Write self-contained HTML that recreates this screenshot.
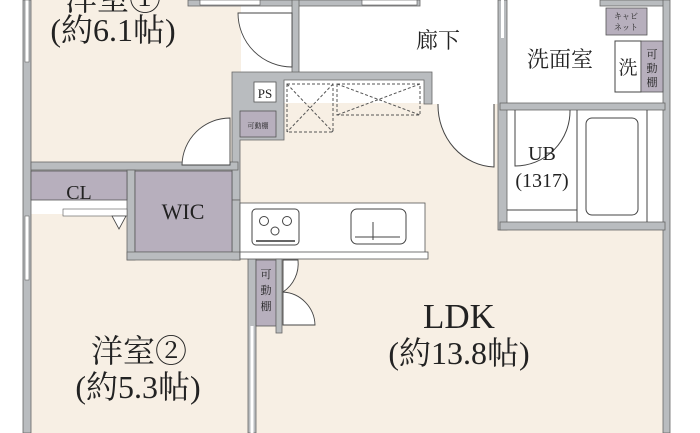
<!DOCTYPE html>
<html><head><meta charset="utf-8"><style>
html,body{margin:0;padding:0;background:#fff;width:700px;height:433px;overflow:hidden}
svg{display:block}
text{font-family:"Liberation Serif","Noto Serif CJK SC",serif;fill:#222}
</style></head><body>
<svg width="700" height="433" viewBox="0 0 700 433" xmlns="http://www.w3.org/2000/svg">
<defs><style>.w{fill:#b9bcbf;stroke:#666;stroke-width:.8}.p{fill:#b7afbd;stroke:#555;stroke-width:.8}.l{fill:none;stroke:#444;stroke-width:1}.d{fill:none;stroke:#555;stroke-width:1;stroke-dasharray:3,2}</style></defs>
<rect x="31" y="0" width="210" height="165" fill="#f7efe4"/>
<rect x="31" y="214" width="220" height="219" fill="#f7efe4"/>
<rect x="238" y="103" width="264" height="330" fill="#f7efe4"/>
<rect x="500" y="228" width="165" height="205" fill="#f7efe4"/>
<rect x="298" y="6" width="202" height="68" fill="#fff"/>
<rect x="430" y="74" width="70" height="30" fill="#fff"/>
<rect x="507" y="6" width="156" height="220" fill="#fff"/>
<rect class="w" x="23" y="0" width="8" height="433"/>
<rect x="25" y="0" width="4" height="62" fill="#fff" stroke="#666" stroke-width=".6"/>
<rect x="25" y="216" width="4" height="64" fill="#fff" stroke="#666" stroke-width=".6"/>
<rect class="w" x="188" y="0" width="232" height="6"/>
<rect x="200" y="0" width="60" height="5" fill="#fff" stroke="#555" stroke-width=".6"/>
<rect x="362" y="0" width="55" height="5" fill="#fff" stroke="#555" stroke-width=".6"/>
<rect class="w" x="600" y="0" width="65" height="6"/>
<rect class="w" x="292" y="0" width="7" height="73"/>
<path class="w" d="M232 72 H432 V104 H424 V80 H284 V140 H240 V200 H232 Z"/>
<rect class="w" x="31" y="162" width="207" height="8"/>
<rect class="w" x="498" y="0" width="9" height="230"/>
<rect x="501" y="0" width="3" height="38" fill="#fff"/>
<rect class="w" x="663" y="0" width="7" height="433"/>
<rect class="w" x="500" y="103" width="165" height="7"/>
<rect class="w" x="500" y="222" width="165" height="8"/>
<rect class="w" x="248" y="258" width="8" height="175"/>
<rect x="250.5" y="326" width="3" height="107" fill="#fff"/>
<rect class="w" x="127" y="170" width="8" height="90"/>
<rect class="w" x="232" y="200" width="8" height="60"/>
<path d="M292 13 H238 A54 54 0 0 0 292 67 Z" fill="#fff" stroke="#444" stroke-width=".9"/>
<path d="M230 118 V165 H182 A48 48 0 0 1 230 118 Z" fill="#fff" stroke="#444" stroke-width=".9"/>
<path d="M438 104 H494 V167 A58 62 0 0 1 438 104 Z" fill="#fff"/>
<path d="M494 104 V167 A58 62 0 0 1 438 104" class="l"/>
<rect x="254" y="82" width="22" height="20" fill="#fff" stroke="#555" stroke-width=".8"/>
<text x="265" y="98" font-size="13" text-anchor="middle">PS</text>
<rect class="p" x="240" y="111" width="36" height="26"/>
<text x="258" y="128" font-size="7" text-anchor="middle">可動棚</text>
<rect class="d" x="287" y="84" width="46" height="48"/><path class="d" d="M287 84 L333 132 M333 84 L287 132"/>
<rect class="d" x="337" y="84" width="83" height="31"/><path class="d" d="M337 84 L420 115 M420 84 L337 115"/>
<rect class="p" x="31" y="171" width="96" height="29"/>
<text x="79" y="199" font-size="20" text-anchor="middle">CL</text>
<rect x="63" y="209" width="64" height="7" fill="#fff" stroke="#555" stroke-width=".6"/>
<path d="M112 216 L126 216 L119 229 Z" fill="#fff" stroke="#444" stroke-width=".8"/>
<rect class="p" x="135" y="171" width="97" height="81"/>
<text x="183" y="219" font-size="22" text-anchor="middle">WIC</text>
<path class="w" d="M127 252 H240 V260 H127 Z"/>
<rect x="240" y="203" width="185" height="53" fill="#fff" stroke="#555" stroke-width=".8"/>
<rect x="240" y="252" width="188" height="7" fill="#fff" stroke="#555" stroke-width=".8"/>
<rect x="252" y="209" width="47" height="36" rx="4" fill="#fff" stroke="#444"/>
<circle cx="264" cy="221" r="4.5" class="l"/><circle cx="287" cy="221" r="4.5" class="l"/><circle cx="275" cy="231" r="4" class="l"/>
<line x1="256" y1="241" x2="295" y2="241" stroke="#333" stroke-width="1.5"/>
<rect x="351" y="209" width="55" height="35" rx="6" fill="#fff" stroke="#444"/>
<line x1="373" y1="222" x2="373" y2="240" stroke="#444"/>
<path d="M355 237 H400" stroke="#444" fill="none"/>
<rect class="p" x="256" y="260" width="20" height="66"/>
<text x="266" y="278" font-size="11" text-anchor="middle">可</text>
<text x="266" y="294" font-size="11" text-anchor="middle">動</text>
<text x="266" y="310" font-size="11" text-anchor="middle">棚</text>
<rect class="w" x="276" y="259" width="6" height="74"/>
<path d="M283 260 H298 A34 34 0 0 1 283 292 Z" fill="#fff" stroke="#444" stroke-width=".9"/>
<path d="M283 292 A34 34 0 0 1 315 325 H283 Z" fill="#fff" stroke="#444" stroke-width=".9"/>
<rect class="p" x="606" y="8" width="41" height="27"/>
<text x="626" y="19" font-size="8" text-anchor="middle">キャビ</text>
<text x="626" y="30" font-size="8" text-anchor="middle">ネット</text>
<rect x="615" y="41" width="26" height="51" fill="#fff" stroke="#444"/>
<text x="628" y="74" font-size="19" text-anchor="middle">洗</text>
<rect class="p" x="641" y="41" width="22" height="51"/>
<text x="652" y="58" font-size="11" text-anchor="middle">可</text>
<text x="652" y="72" font-size="11" text-anchor="middle">動</text>
<text x="652" y="86" font-size="11" text-anchor="middle">棚</text>
<text x="560" y="67" font-size="22" text-anchor="middle">洗面室</text>
<text x="438" y="48" font-size="22" text-anchor="middle">廊下</text>
<path d="M515 110 V166 A55 55 0 0 0 570 110" class="l"/>
<line x1="577" y1="110" x2="577" y2="222" stroke="#444"/>
<line x1="647" y1="110" x2="647" y2="222" stroke="#444"/>
<rect x="586" y="118" width="52" height="97" rx="6" class="l"/>
<line x1="507" y1="210" x2="577" y2="210" stroke="#444"/>
<text x="542" y="160" font-size="20" text-anchor="middle">UB</text>
<text x="542" y="187" font-size="20" text-anchor="middle">(1317)</text>
<text x="113" y="10" font-size="32" text-anchor="middle">洋室①</text>
<text x="113" y="41" font-size="32" text-anchor="middle">(約6.1帖)</text>
<text x="139" y="362" font-size="32" text-anchor="middle">洋室②</text>
<text x="138" y="398" font-size="32" text-anchor="middle">(約5.3帖)</text>
<text x="459" y="328" font-size="35" text-anchor="middle">LDK</text>
<text x="459" y="364" font-size="32" text-anchor="middle">(約13.8帖)</text>
</svg>
</body></html>
